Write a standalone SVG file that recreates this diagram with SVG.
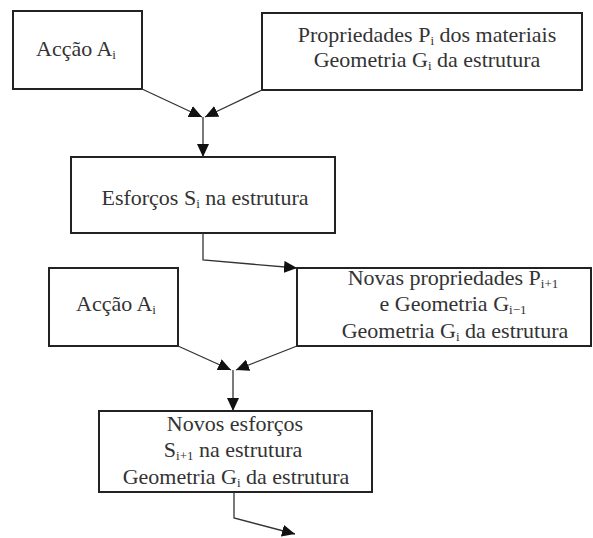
<svg xmlns="http://www.w3.org/2000/svg" width="593" height="538" viewBox="0 0 593 538">
<style>
.box{fill:#fff;stroke:#222;stroke-width:2}
.t{font-family:"Liberation Serif","Times New Roman",serif;font-size:22px;fill:#333;text-anchor:middle}
.s{font-size:13px}
.c{fill:none;stroke:#333;stroke-width:1.3}
</style>
<defs>
<marker id="ah" markerUnits="userSpaceOnUse" markerWidth="14" markerHeight="12" viewBox="0 0 14 12" refX="13" refY="6" orient="auto">
<path d="M0,0 L13,6 L0,12 Z" fill="#111"/>
</marker>
</defs>
<rect width="593" height="538" fill="#fff"/>
<g id="n1"><rect class="box" x="13" y="11" width="129" height="78"/>
<text class="t" x="76" y="56">Acção A<tspan class="s" dy="3">i</tspan></text></g>
<g id="n2"><rect class="box" x="262" y="13" width="320" height="77"/>
<text class="t" x="427" y="42">Propriedades P<tspan class="s" dy="3">i</tspan><tspan dy="-3"> dos materiais</tspan></text>
<text class="t" x="427" y="67">Geometria G<tspan class="s" dy="3">i</tspan><tspan dy="-3"> da estrutura</tspan></text></g>
<g id="n3"><rect class="box" x="71" y="157" width="264" height="76"/>
<text class="t" x="205" y="205">Esforços S<tspan class="s" dy="3">i</tspan><tspan dy="-3"> na estrutura</tspan></text></g>
<g id="n4"><rect class="box" x="297" y="268" width="294" height="78"/>
<text class="t" x="453" y="285">Novas propriedades P<tspan class="s" dy="3">i+1</tspan></text>
<text class="t" x="453" y="311">e Geometria G<tspan class="s" dy="3">i−1</tspan></text>
<text class="t" x="455" y="338">Geometria G<tspan class="s" dy="3">i</tspan><tspan dy="-3"> da estrutura</tspan></text></g>
<g id="n5"><rect class="box" x="49" y="268" width="129" height="78"/>
<text class="t" x="116" y="311">Acção A<tspan class="s" dy="3">i</tspan></text></g>
<g id="n6"><rect class="box" x="99" y="411" width="273" height="81"/>
<text class="t" x="235" y="431">Novos esforços</text>
<text class="t" x="233" y="457">S<tspan class="s" dy="3">i+1</tspan><tspan dy="-3"> na estrutura</tspan></text>
<text class="t" x="236" y="484">Geometria G<tspan class="s" dy="3">i</tspan><tspan dy="-3"> da estrutura</tspan></text></g>
<g id="connectors">
<path class="c" d="M142,89 L202,117" marker-end="url(#ah)"/>
<path class="c" d="M262,90 L205,117" marker-end="url(#ah)"/>
<path class="c" d="M203,117 L203,157" marker-end="url(#ah)"/>
<path class="c" d="M203,233 L203,260 L297,268" marker-end="url(#ah)"/>
<path class="c" d="M178,346 L231,370" marker-end="url(#ah)"/>
<path class="c" d="M297,346 L236,370" marker-end="url(#ah)"/>
<path class="c" d="M233,370 L233,411" marker-end="url(#ah)"/>
<path class="c" d="M234,492 L234,518 L295,534" marker-end="url(#ah)"/>
</g>
</svg>
